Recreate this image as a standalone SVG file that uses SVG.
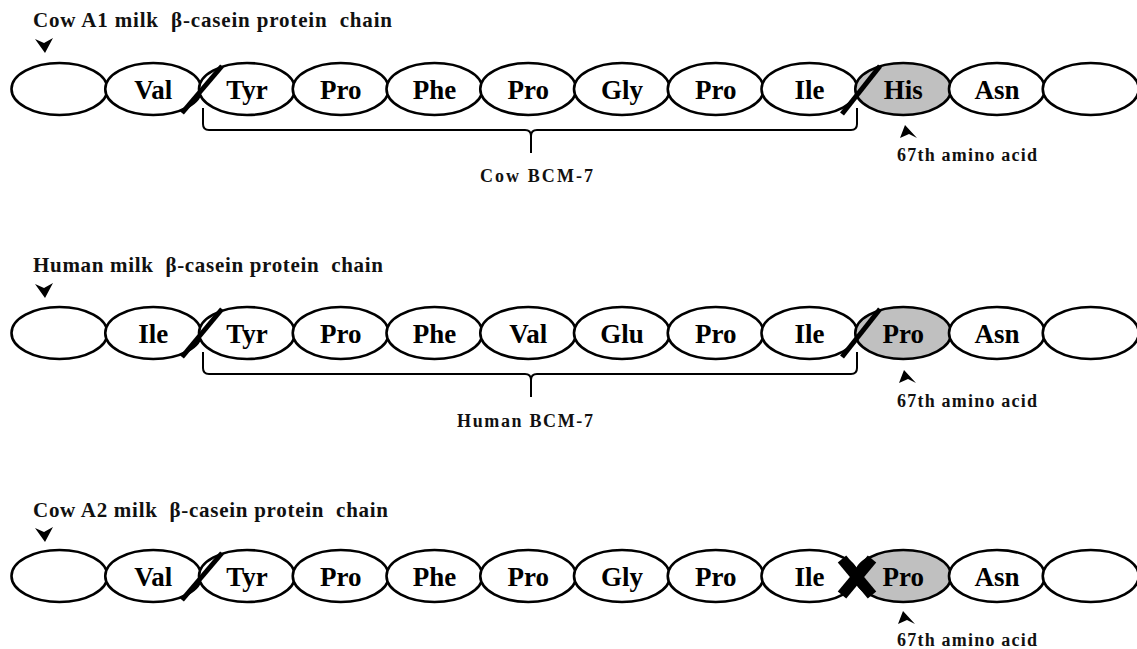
<svg xmlns="http://www.w3.org/2000/svg" width="1137" height="649" viewBox="0 0 1137 649">
<style>
  .e { fill: #ffffff; stroke: #000000; stroke-width: 2.6; }
  .g { fill: #c0c0c0; stroke: #000000; stroke-width: 2.6; }
  .lbl { font-family: "Liberation Serif", serif; font-weight: bold; font-size: 27px; fill: #000000; text-anchor: middle; }
  .ttl { font-family: "Liberation Serif", serif; font-weight: bold; font-size: 21px; fill: #111111; white-space: pre; }
  .sm { font-family: "Liberation Serif", serif; font-weight: bold; font-size: 18px; fill: #111111; }
  .cut { stroke: #000000; stroke-width: 5; fill: none; }
  .brace { stroke: #000000; stroke-width: 2; fill: none; }
  .arr { fill: #000000; }
  .x { stroke: #000000; stroke-width: 11; fill: none; }
</style>
<defs>
  <path id="downArr" d="M-9,-7 L0,-3 L9,-8 L1,7 Z"/>
  <path id="upArr" d="M-1,-7 L11,6 L3,2 L-6,6 Z"/>
</defs>

<!-- Row 1: Cow A1 -->
<g id="row1">
  <text class="ttl" x="33" y="27" textLength="359">Cow A1 milk  β-casein protein  chain</text>
  <g id="r1n0"><ellipse class="e" cx="59.5" cy="89" rx="48" ry="26"/></g>
  <g id="r1n1"><ellipse class="e" cx="153.25" cy="89" rx="48" ry="26"/><text class="lbl" x="153.25" y="98.5">Val</text></g>
  <g id="r1n2"><ellipse class="e" cx="247" cy="89" rx="48" ry="26"/><text class="lbl" x="247" y="98.5">Tyr</text></g>
  <g id="r1n3"><ellipse class="e" cx="340.75" cy="89" rx="48" ry="26"/><text class="lbl" x="340.75" y="98.5">Pro</text></g>
  <g id="r1n4"><ellipse class="e" cx="434.5" cy="89" rx="48" ry="26"/><text class="lbl" x="434.5" y="98.5">Phe</text></g>
  <g id="r1n5"><ellipse class="e" cx="528.25" cy="89" rx="48" ry="26"/><text class="lbl" x="528.25" y="98.5">Pro</text></g>
  <g id="r1n6"><ellipse class="e" cx="622" cy="89" rx="48" ry="26"/><text class="lbl" x="622" y="98.5">Gly</text></g>
  <g id="r1n7"><ellipse class="e" cx="715.75" cy="89" rx="48" ry="26"/><text class="lbl" x="715.75" y="98.5">Pro</text></g>
  <g id="r1n8"><ellipse class="e" cx="809.5" cy="89" rx="48" ry="26"/><text class="lbl" x="809.5" y="98.5">Ile</text></g>
  <g id="r1n9"><ellipse class="g" cx="903.25" cy="89" rx="48" ry="26"/><text class="lbl" x="903.25" y="98.5">His</text></g>
  <g id="r1n10"><ellipse class="e" cx="997" cy="89" rx="48" ry="26"/><text class="lbl" x="997" y="98.5">Asn</text></g>
  <g id="r1n11"><ellipse class="e" cx="1090.75" cy="89" rx="48" ry="26"/></g>
  <text class="sm" x="480" y="182" textLength="113">Cow BCM-7</text>
  <text class="sm" x="897" y="161" textLength="140">67th amino acid</text>
</g>

<!-- Row 2: Human -->
<g id="row2">
  <text class="ttl" x="33" y="272" textLength="350">Human milk  β-casein protein  chain</text>
  <g id="r2n0"><ellipse class="e" cx="59.5" cy="333" rx="48" ry="26"/></g>
  <g id="r2n1"><ellipse class="e" cx="153.25" cy="333" rx="48" ry="26"/><text class="lbl" x="153.25" y="342.5">Ile</text></g>
  <g id="r2n2"><ellipse class="e" cx="247" cy="333" rx="48" ry="26"/><text class="lbl" x="247" y="342.5">Tyr</text></g>
  <g id="r2n3"><ellipse class="e" cx="340.75" cy="333" rx="48" ry="26"/><text class="lbl" x="340.75" y="342.5">Pro</text></g>
  <g id="r2n4"><ellipse class="e" cx="434.5" cy="333" rx="48" ry="26"/><text class="lbl" x="434.5" y="342.5">Phe</text></g>
  <g id="r2n5"><ellipse class="e" cx="528.25" cy="333" rx="48" ry="26"/><text class="lbl" x="528.25" y="342.5">Val</text></g>
  <g id="r2n6"><ellipse class="e" cx="622" cy="333" rx="48" ry="26"/><text class="lbl" x="622" y="342.5">Glu</text></g>
  <g id="r2n7"><ellipse class="e" cx="715.75" cy="333" rx="48" ry="26"/><text class="lbl" x="715.75" y="342.5">Pro</text></g>
  <g id="r2n8"><ellipse class="e" cx="809.5" cy="333" rx="48" ry="26"/><text class="lbl" x="809.5" y="342.5">Ile</text></g>
  <g id="r2n9"><ellipse class="g" cx="903.25" cy="333" rx="48" ry="26"/><text class="lbl" x="903.25" y="342.5">Pro</text></g>
  <g id="r2n10"><ellipse class="e" cx="997" cy="333" rx="48" ry="26"/><text class="lbl" x="997" y="342.5">Asn</text></g>
  <g id="r2n11"><ellipse class="e" cx="1090.75" cy="333" rx="48" ry="26"/></g>
  <text class="sm" x="457" y="427" textLength="136">Human BCM-7</text>
  <text class="sm" x="897" y="407" textLength="140">67th amino acid</text>
</g>

<!-- Row 3: Cow A2 -->
<g id="row3">
  <text class="ttl" x="33" y="517" textLength="355">Cow A2 milk  β-casein protein  chain</text>
  <g id="r3n0"><ellipse class="e" cx="59.5" cy="576" rx="48" ry="26"/></g>
  <g id="r3n1"><ellipse class="e" cx="153.25" cy="576" rx="48" ry="26"/><text class="lbl" x="153.25" y="585.5">Val</text></g>
  <g id="r3n2"><ellipse class="e" cx="247" cy="576" rx="48" ry="26"/><text class="lbl" x="247" y="585.5">Tyr</text></g>
  <g id="r3n3"><ellipse class="e" cx="340.75" cy="576" rx="48" ry="26"/><text class="lbl" x="340.75" y="585.5">Pro</text></g>
  <g id="r3n4"><ellipse class="e" cx="434.5" cy="576" rx="48" ry="26"/><text class="lbl" x="434.5" y="585.5">Phe</text></g>
  <g id="r3n5"><ellipse class="e" cx="528.25" cy="576" rx="48" ry="26"/><text class="lbl" x="528.25" y="585.5">Pro</text></g>
  <g id="r3n6"><ellipse class="e" cx="622" cy="576" rx="48" ry="26"/><text class="lbl" x="622" y="585.5">Gly</text></g>
  <g id="r3n7"><ellipse class="e" cx="715.75" cy="576" rx="48" ry="26"/><text class="lbl" x="715.75" y="585.5">Pro</text></g>
  <g id="r3n8"><ellipse class="e" cx="809.5" cy="576" rx="48" ry="26"/><text class="lbl" x="809.5" y="585.5">Ile</text></g>
  <g id="r3n9"><ellipse class="g" cx="903.25" cy="576" rx="48" ry="26"/><text class="lbl" x="903.25" y="585.5">Pro</text></g>
  <g id="r3n10"><ellipse class="e" cx="997" cy="576" rx="48" ry="26"/><text class="lbl" x="997" y="585.5">Asn</text></g>
  <g id="r3n11"><ellipse class="e" cx="1090.75" cy="576" rx="48" ry="26"/></g>
  <text class="sm" x="897" y="646" textLength="140">67th amino acid</text>
</g>

<!-- Connectors / marks -->
<g id="connectors">
  <!-- title arrows -->
  <use href="#downArr" class="arr" x="44" y="46"/>
  <use href="#downArr" class="arr" x="44" y="291"/>
  <use href="#downArr" class="arr" x="44" y="535"/>
  <!-- 67th arrows -->
  <use href="#upArr" class="arr" x="906" y="132"/>
  <use href="#upArr" class="arr" x="905" y="377"/>
  <use href="#upArr" class="arr" x="904" y="618"/>
  <!-- cleavage slashes -->
  <line class="cut" x1="182" y1="113" x2="222" y2="66"/>
  <line class="cut" x1="842" y1="114" x2="880" y2="66"/>
  <line class="cut" x1="182" y1="357" x2="222" y2="309"/>
  <line class="cut" x1="842" y1="357" x2="880" y2="309"/>
  <line class="cut" x1="182" y1="600" x2="222" y2="553"/>
  <!-- X mark (no cleavage) -->
  <line class="x" x1="842" y1="559" x2="872" y2="595"/>
  <line class="x" x1="872" y1="559" x2="842" y2="595"/>
  <!-- braces -->
  <path class="brace" d="M203,108 V124 Q203,130 209,130 H525 Q531,130 531,136 V153 M531,136 Q531,130 537,130 H851 Q857,130 857,124 V108"/>
  <path class="brace" d="M203,352 V368 Q203,374 209,374 H525 Q531,374 531,380 V397 M531,380 Q531,374 537,374 H851 Q857,374 857,368 V352"/>
</g>
</svg>
